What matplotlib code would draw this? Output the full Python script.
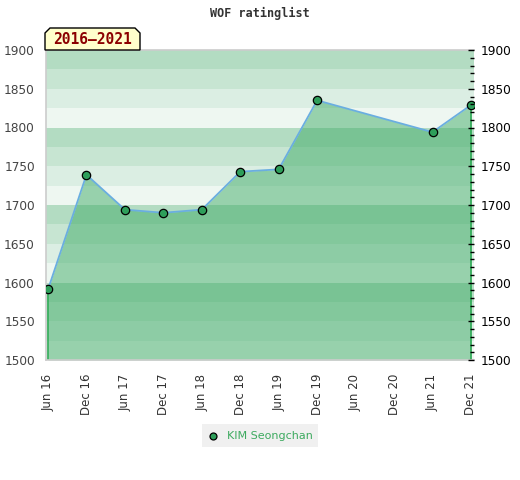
import matplotlib
matplotlib.use("Agg")
import matplotlib.pyplot as plt
from matplotlib.patches import Polygon
from matplotlib.ticker import MultipleLocator

tick_labels = ["Jun 16", "Dec 16", "Jun 17", "Dec 17", "Jun 18", "Dec 18",
               "Jun 19", "Dec 19", "Jun 20", "Dec 20", "Jun 21", "Dec 21"]
point_periods = ["Jun 16", "Dec 16", "Jun 17", "Dec 17", "Jun 18", "Dec 18",
                 "Jun 19", "Dec 19", "Jun 21", "Dec 21"]
ratings = [1591, 1739, 1694, 1690, 1694, 1743, 1746, 1835, 1794, 1829]
series_name = "KIM Seongchan"
period_label = "2016\u20132021"
title = "WOF ratinglist"

xs = [tick_labels.index(p) for p in point_periods]

fig = plt.figure(figsize=(5.2, 4.8), dpi=100)
L, R, T, B = 46, 474, 50, 360
ax = fig.add_axes([L / 520, (480 - B) / 480, (R - L) / 520, (B - T) / 480])
ymin, ymax = 1500, 1900
ax.set_ylim(ymin, ymax)
ax.set_xlim(-2 / 38.45, (R - 48) / 38.45)

band_cols = ['#eef7f1', '#dbeee3', '#c7e5d2', '#b3dcc2']
for base in range(ymin, ymax, 100):
    for i, c in enumerate(band_cols):
        ax.axhspan(base + 25 * i, base + 25 * (i + 1), color=c, lw=0, zorder=0)

ax.fill_between(xs, ratings, ymin, color='#41ac68', alpha=0.5, lw=0, zorder=1)
ax.plot([xs[0], xs[0]], [ymin, ratings[0]], color='#2eaa55', lw=1.2, zorder=2)
ax.plot([xs[-1], xs[-1]], [ymin, ratings[-1]], color='#2eaa55', lw=1.2, zorder=2)
ax.plot(xs, ratings, color='#6aaee0', lw=1.3, zorder=3)
ax.plot(xs, ratings, 'o', ms=6, mfc='#2e9e5a', mec='black', mew=0.9, zorder=4)

for s in ['left', 'bottom', 'top']:
    ax.spines[s].set_color('#cccccc')
    ax.spines[s].set_linewidth(1.2)
ax.spines['right'].set_visible(False)

ax.set_xticks(range(len(tick_labels)))
ax.set_xticklabels(tick_labels, rotation=90, color='#333333', fontsize=8.5)
ax.tick_params(axis='x', length=0, pad=10)

ax.yaxis.set_major_locator(MultipleLocator(50))
ax.tick_params(axis='y', which='both', left=False, length=0, labelleft=True,
               labelcolor='#444444', labelsize=8.7, pad=8)

ax2 = ax.twinx()
ax2.set_ylim(ymin, ymax)
ax2.yaxis.set_major_locator(MultipleLocator(50))
ax2.yaxis.set_minor_locator(MultipleLocator(10))
ax2.tick_params(axis='y', which='major', direction='in', length=4.5, width=1,
                labelsize=8.7, labelcolor='black', pad=5, color='black')
ax2.tick_params(axis='y', which='minor', direction='in', length=3, width=1, color='black')
for s in ax2.spines.values():
    s.set_visible(False)

fig.text(260 / 520, 1 - 13 / 480, title, ha='center', va='center',
         family='DejaVu Sans Mono', fontweight='bold', fontsize=8.5, color='#333333')

# period label box
bx0, bx1, by0, by1, ch = 45, 140, 28, 50, 5
pts = [(bx0, by1), (bx0, by0 + ch), (bx0 + ch, by0), (bx1 - ch, by0),
       (bx1, by0 + ch), (bx1, by1)]
pts = [(x / 520, 1 - y / 480) for x, y in pts]
fig.patches.append(Polygon(pts, closed=True, facecolor='#ffffcc', edgecolor='black',
                           lw=1, transform=fig.transFigure, zorder=5))
fig.text((bx0 + bx1) / 2 / 520, 1 - 40 / 480, period_label, ha='center', va='center',
         family='DejaVu Sans Mono', fontweight='bold', fontsize=10.5, color='#8b0000', zorder=6)

# legend
lx0, lx1, ly0, ly1 = 202, 318, 424, 447
fig.patches.append(plt.Rectangle((lx0 / 520, 1 - ly1 / 480), (lx1 - lx0) / 520,
                                 (ly1 - ly0) / 480, facecolor='#f0f0f0', edgecolor='none',
                                 transform=fig.transFigure))
fig.lines.append(plt.Line2D([213 / 520], [1 - 436 / 480], marker='o', ms=5,
                            mfc='#2e9e5a', mec='black', mew=0.9, transform=fig.transFigure))
fig.text(227 / 520, 1 - 436 / 480, series_name, ha='left', va='center',
         fontsize=8, color='#3daa5f')

fig.savefig("out.png", dpi=100)
